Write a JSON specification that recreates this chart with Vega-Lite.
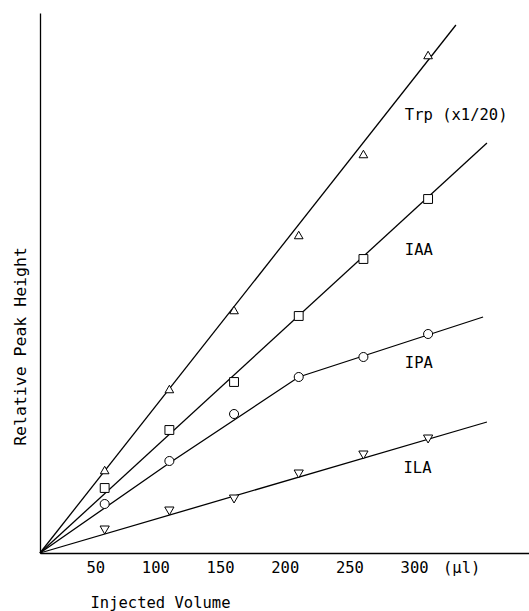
{
  "$schema": "https://vega.github.io/schema/vega-lite/v6.json",
  "autosize": "none",
  "width": 489,
  "height": 540,
  "padding": {"left": 40, "top": 13, "right": 0, "bottom": 58},
  "background": "white",
  "config": {
    "view": {"stroke": null},
    "font": "DejaVu Sans Mono"
  },
  "datasets": {
    "points": [
      {"compound": "Trp", "volume": 50, "height": 83},
      {"compound": "Trp", "volume": 100, "height": 164},
      {"compound": "Trp", "volume": 150, "height": 243},
      {"compound": "Trp", "volume": 200, "height": 318},
      {"compound": "Trp", "volume": 250, "height": 399},
      {"compound": "Trp", "volume": 300, "height": 498},
      {"compound": "IAA", "volume": 50, "height": 65},
      {"compound": "IAA", "volume": 100, "height": 123},
      {"compound": "IAA", "volume": 150, "height": 171},
      {"compound": "IAA", "volume": 200, "height": 237},
      {"compound": "IAA", "volume": 250, "height": 294},
      {"compound": "IAA", "volume": 300, "height": 354},
      {"compound": "IPA", "volume": 50, "height": 49},
      {"compound": "IPA", "volume": 100, "height": 92},
      {"compound": "IPA", "volume": 150, "height": 139},
      {"compound": "IPA", "volume": 200, "height": 176},
      {"compound": "IPA", "volume": 250, "height": 196},
      {"compound": "IPA", "volume": 300, "height": 219},
      {"compound": "ILA", "volume": 50, "height": 23},
      {"compound": "ILA", "volume": 100, "height": 42},
      {"compound": "ILA", "volume": 150, "height": 54},
      {"compound": "ILA", "volume": 200, "height": 79},
      {"compound": "ILA", "volume": 250, "height": 98},
      {"compound": "ILA", "volume": 300, "height": 114}
    ],
    "lines": [
      {"compound": "Trp", "order": 0, "volume": 0, "height": 0},
      {"compound": "Trp", "order": 1, "volume": 321.5, "height": 528},
      {"compound": "IAA", "order": 0, "volume": 0, "height": 0},
      {"compound": "IAA", "order": 1, "volume": 345.5, "height": 410},
      {"compound": "IPA", "order": 0, "volume": 0, "height": 0},
      {"compound": "IPA", "order": 1, "volume": 100, "height": 90},
      {"compound": "IPA", "order": 2, "volume": 200, "height": 176},
      {"compound": "IPA", "order": 3, "volume": 342.5, "height": 236},
      {"compound": "ILA", "order": 0, "volume": 0, "height": 0},
      {"compound": "ILA", "order": 1, "volume": 345.5, "height": 131}
    ],
    "labels": [
      {"label": "Trp (x1/20)", "volume": 282, "height": 438},
      {"label": "IAA", "volume": 282, "height": 303},
      {"label": "IPA", "volume": 282, "height": 190},
      {"label": "ILA", "volume": 281, "height": 85}
    ]
  },
  "layer": [
    {
      "data": {"name": "lines"},
      "mark": {"type": "line", "color": "black", "strokeWidth": 1.3},
      "encoding": {
        "x": {
          "field": "volume", "type": "quantitative",
          "scale": {"domain": [0, 378], "nice": false, "zero": false},
          "axis": {
            "values": [50, 100, 150, 200, 250, 300, 340],
            "labelExpr": "datum.value == 340 ? '(µl)' : datum.label",
            "ticks": false,
            "grid": false,
            "domainColor": "black",
            "domainWidth": 1.3,
            "labelColor": "black",
            "labelFontSize": 15.5,
            "labelFont": "DejaVu Sans Mono",
            "labelPadding": 7,
            "labelFlush": false,
            "labelOverlap": false,
            "labelAlign": "right",
            "title": "Injected Volume",
            "titleFont": "DejaVu Sans Mono",
            "titleFontSize": 15.5,
            "titleFontWeight": "normal",
            "titleColor": "black",
            "titleAnchor": "start",
            "titleAlign": "left",
            "titleX": 50,
            "titleY": 49,
            "titleBaseline": "middle"
          }
        },
        "y": {
          "field": "height", "type": "quantitative",
          "scale": {"domain": [0, 540], "nice": false, "zero": false},
          "axis": {
            "labels": false,
            "ticks": false,
            "grid": false,
            "domainColor": "black",
            "domainWidth": 1.3,
            "title": "Relative Peak Height",
            "titleFont": "DejaVu Sans Mono",
            "titleFontSize": 16.5,
            "titleFontWeight": "normal",
            "titleColor": "black",
            "titleAngle": -90,
            "titleAlign": "center",
            "titleBaseline": "middle",
            "titleX": -20,
            "titleY": 333
          }
        },
        "detail": {"field": "compound"},
        "order": {"field": "order", "type": "quantitative"}
      }
    },
    {
      "data": {"name": "points"},
      "mark": {"type": "point", "filled": true, "fill": "white", "stroke": "black", "strokeWidth": 1, "opacity": 1},
      "encoding": {
        "x": {"field": "volume", "type": "quantitative"},
        "y": {"field": "height", "type": "quantitative"},
        "shape": {
          "field": "compound", "type": "nominal",
          "scale": {"domain": ["Trp", "IAA", "IPA", "ILA"], "range": ["triangle-up", "square", "circle", "triangle-down"]},
          "legend": null
        },
        "size": {
          "field": "compound", "type": "nominal",
          "scale": {"domain": ["Trp", "IAA", "IPA", "ILA"], "range": [75, 85, 85, 75]},
          "legend": null
        }
      }
    },
    {
      "data": {"name": "labels"},
      "mark": {"type": "text", "align": "left", "baseline": "middle", "font": "DejaVu Sans Mono", "fontSize": 15.5, "color": "black"},
      "encoding": {
        "x": {"field": "volume", "type": "quantitative"},
        "y": {"field": "height", "type": "quantitative"},
        "text": {"field": "label"}
      }
    }
  ]
}
